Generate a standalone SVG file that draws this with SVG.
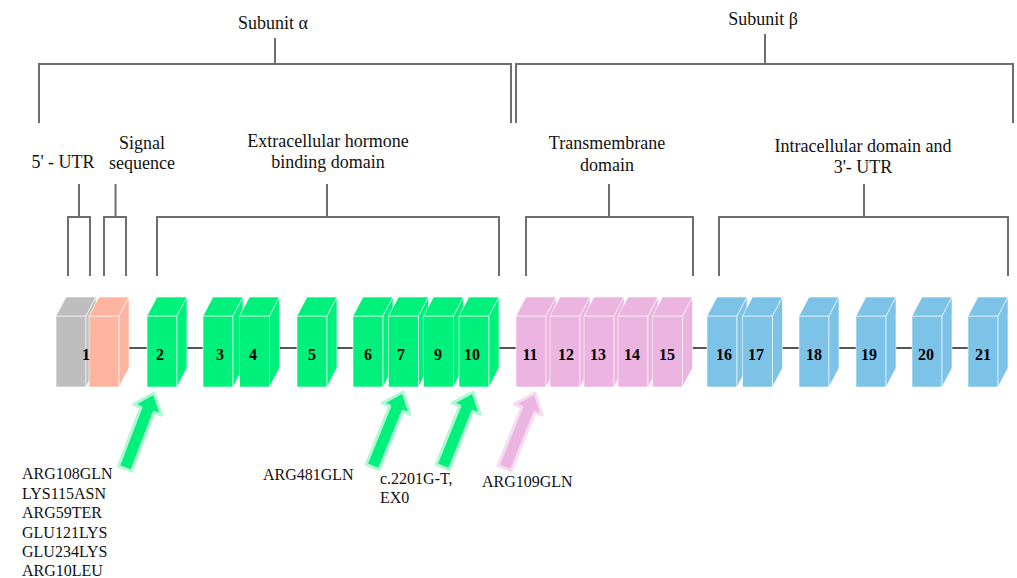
<svg xmlns="http://www.w3.org/2000/svg" xmlns:xlink="http://www.w3.org/1999/xlink" width="1017" height="578" viewBox="0 0 1017 578">
  <style>
    .br { fill: none; stroke: #6e6e6e; stroke-width: 2; }
    .con { stroke: #555; stroke-width: 2; }
    .lbl { font-family: "Liberation Serif", "Times New Roman", serif; font-size: 18px; fill: #111; text-anchor: middle; }
    .mut { font-family: "Liberation Serif", "Times New Roman", serif; font-size: 16px; fill: #111; }
    .num { font-family: "Liberation Serif", "Times New Roman", serif; font-size: 16px; font-weight: bold; fill: #000; text-anchor: middle; }
    .gray { fill: #bebebe; }
    .salmon { fill: #ffb4a0; }
    .green { fill: #00f07c; }
    .pink { fill: #ebb4e1; }
    .blue { fill: #7dc3e8; }
    .ag { fill: #00f07c; stroke: #b0f9d2; stroke-width: 3; stroke-linejoin: round; }
    .ap { fill: #ebb4e1; stroke: #f5dcf1; stroke-width: 3; stroke-linejoin: round; }
  </style>
  <defs>
    <g id="prism" stroke="#ffffff" stroke-opacity="0.6" stroke-width="1" stroke-linejoin="round">
      <rect x="0" y="316" width="30" height="71"/>
      <polygon points="0,316 10,297 40,297 30,316"/>
      <polygon points="30,316 40,297 40,368 30,387"/>
    </g>
    <path id="arrow" d="M0,0 L15,18 L7,18 L7,81 L-7,81 L-7,18 L-15,18 Z"/>
  </defs>
  <rect width="1017" height="578" fill="#ffffff"/>

  <!-- Brackets and labels -->
  <g id="subunit-alpha">
    <path class="br" d="M39,123 V64 H511 V123 M275,64 V38"/>
    <text class="lbl" x="273" y="29">Subunit α</text>
  </g>
  <g id="subunit-beta">
    <path class="br" d="M516,123 V64 H1013 V123 M765,64 V34"/>
    <text class="lbl" x="763" y="25">Subunit β</text>
  </g>
  <g id="utr5">
    <path class="br" d="M68,276 V217 H90 V276 M79,217 V184"/>
    <text class="lbl" x="63" y="168">5' - UTR</text>
  </g>
  <g id="signal">
    <path class="br" d="M104,276 V217 H126 V276 M115.5,217 V184"/>
    <text class="lbl" x="142" y="149">Signal</text>
    <text class="lbl" x="142" y="169">sequence</text>
  </g>
  <g id="extracellular">
    <path class="br" d="M157,276 V217 H499 V276 M327,217 V184"/>
    <text class="lbl" x="328" y="147">Extracellular hormone</text>
    <text class="lbl" x="328" y="168">binding domain</text>
  </g>
  <g id="transmembrane">
    <path class="br" d="M526,276 V217 H693 V276 M609,217 V184"/>
    <text class="lbl" x="607" y="149">Transmembrane</text>
    <text class="lbl" x="607" y="171">domain</text>
  </g>
  <g id="intracellular">
    <path class="br" d="M719,276 V217 H1008 V276 M864,217 V184"/>
    <text class="lbl" x="863" y="152">Intracellular domain and</text>
    <text class="lbl" x="863" y="173">3'- UTR</text>
  </g>

  <!-- Connectors -->
  <g id="connectors">
    <line class="con" x1="128" y1="348" x2="148" y2="348"/>
    <line class="con" x1="186" y1="348" x2="204" y2="348"/>
    <line class="con" x1="278" y1="348" x2="298" y2="348"/>
    <line class="con" x1="336" y1="348" x2="354" y2="348"/>
    <line class="con" x1="497" y1="348" x2="517" y2="348"/>
    <line class="con" x1="691" y1="348" x2="708" y2="348"/>
    <line class="con" x1="780" y1="348" x2="800" y2="348"/>
    <line class="con" x1="838" y1="348" x2="857" y2="348"/>
    <line class="con" x1="894" y1="348" x2="913" y2="348"/>
    <line class="con" x1="950" y1="348" x2="969" y2="348"/>
  </g>

  <!-- Exons -->
  <g id="exon1">
    <use xlink:href="#prism" href="#prism" x="56" class="gray"/>
    <use xlink:href="#prism" href="#prism" x="89" class="salmon"/>
    <text class="num" x="86" y="360">1</text>
  </g>
  <g id="exon2"><use href="#prism" xlink:href="#prism" x="147" class="green"/><text class="num" x="160" y="360">2</text></g>
  <g id="exon3"><use href="#prism" xlink:href="#prism" x="203" class="green"/><text class="num" x="220" y="360">3</text></g>
  <g id="exon4"><use href="#prism" xlink:href="#prism" x="239.5" class="green"/><text class="num" x="253" y="360">4</text></g>
  <g id="exon5"><use href="#prism" xlink:href="#prism" x="297" class="green"/><text class="num" x="312" y="360">5</text></g>
  <g id="exon6"><use href="#prism" xlink:href="#prism" x="353" class="green"/><text class="num" x="368" y="360">6</text></g>
  <g id="exon7"><use href="#prism" xlink:href="#prism" x="388.5" class="green"/><text class="num" x="401" y="360">7</text></g>
  <g id="exon9"><use href="#prism" xlink:href="#prism" x="423.5" class="green"/><text class="num" x="438" y="360">9</text></g>
  <g id="exon10"><use href="#prism" xlink:href="#prism" x="459" class="green"/><text class="num" x="472" y="360">10</text></g>
  <g id="exon11"><use href="#prism" xlink:href="#prism" x="516" class="pink"/><text class="num" x="530" y="360">11</text></g>
  <g id="exon12"><use href="#prism" xlink:href="#prism" x="550" class="pink"/><text class="num" x="566" y="360">12</text></g>
  <g id="exon13"><use href="#prism" xlink:href="#prism" x="584" class="pink"/><text class="num" x="598" y="360">13</text></g>
  <g id="exon14"><use href="#prism" xlink:href="#prism" x="618" class="pink"/><text class="num" x="632" y="360">14</text></g>
  <g id="exon15"><use href="#prism" xlink:href="#prism" x="652.5" class="pink"/><text class="num" x="667" y="360">15</text></g>
  <g id="exon16"><use href="#prism" xlink:href="#prism" x="707" class="blue"/><text class="num" x="724" y="360">16</text></g>
  <g id="exon17"><use href="#prism" xlink:href="#prism" x="742.5" class="blue"/><text class="num" x="756" y="360">17</text></g>
  <g id="exon18"><use href="#prism" xlink:href="#prism" x="799" class="blue"/><text class="num" x="814" y="360">18</text></g>
  <g id="exon19"><use href="#prism" xlink:href="#prism" x="856" class="blue"/><text class="num" x="869" y="360">19</text></g>
  <g id="exon20"><use href="#prism" xlink:href="#prism" x="912" class="blue"/><text class="num" x="926" y="360">20</text></g>
  <g id="exon21"><use href="#prism" xlink:href="#prism" x="968" class="blue"/><text class="num" x="983" y="360">21</text></g>

  <!-- Mutation arrows -->
  <g id="mutation-exon2">
    <use href="#arrow" xlink:href="#arrow" class="ag" transform="translate(154,393) rotate(21)"/>
    <text class="mut" x="22" y="479">ARG108GLN</text>
    <text class="mut" x="22" y="499">LYS115ASN</text>
    <text class="mut" x="22" y="518">ARG59TER</text>
    <text class="mut" x="22" y="538">GLU121LYS</text>
    <text class="mut" x="22" y="557">GLU234LYS</text>
    <text class="mut" x="22" y="576">ARG10LEU</text>
  </g>
  <g id="mutation-exon7">
    <use href="#arrow" xlink:href="#arrow" class="ag" transform="translate(403,392) rotate(22)"/>
    <text class="mut" x="263" y="480">ARG481GLN</text>
  </g>
  <g id="mutation-exon10">
    <use href="#arrow" xlink:href="#arrow" class="ag" transform="translate(473,392) rotate(22)"/>
    <text class="mut" x="380" y="484">c.2201G-T,</text>
    <text class="mut" x="380" y="503">EX0</text>
  </g>
  <g id="mutation-exon11">
    <use href="#arrow" xlink:href="#arrow" class="ap" transform="translate(535,393) rotate(22)"/>
    <text class="mut" x="482" y="487">ARG109GLN</text>
  </g>
</svg>
